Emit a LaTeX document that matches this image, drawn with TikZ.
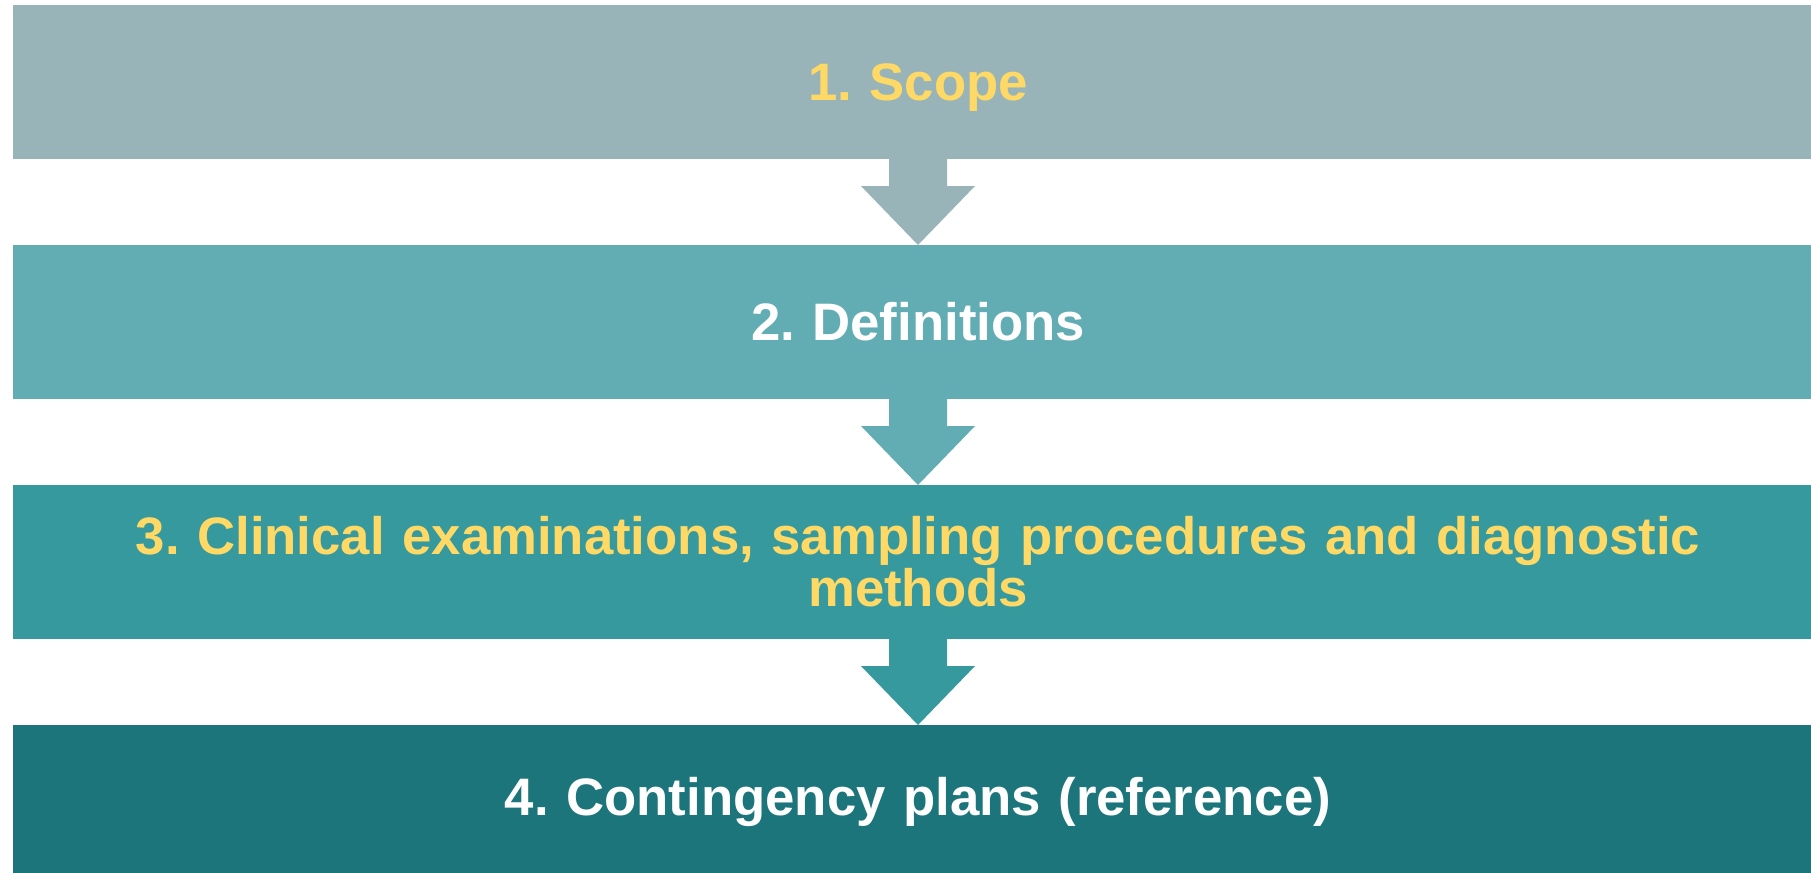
\documentclass[tikz,border=0pt]{standalone}
\usepackage{fontspec}
\setmainfont{Liberation Sans}
\usepackage{xcolor}
\usepackage{tikz}
\usetikzlibrary{positioning, calc}

\definecolor{scopegray}{HTML}{98B4B8}
\definecolor{defteal}{HTML}{62ADB3}
\definecolor{clinteal}{HTML}{36999E}
\definecolor{planteal}{HTML}{1B757A}
\definecolor{labelgold}{HTML}{FFD966}

\frenchspacing

\begin{document}
\begin{tikzpicture}[node distance=0.86cm]

	% Define styles
	\tikzset{
		stage/.style={
			rectangle, inner sep=0pt, outer sep=0pt,
			minimum width=18.10cm, minimum height=1.54cm,
			text width=17.6cm, align=center,
			font=\fontsize{15}{14.8}\selectfont\bfseries
		},
		scopebox/.style={stage, fill=scopegray, text=labelgold, text depth=0pt},
		defbox/.style={stage, fill=defteal, text=white},
		clinbox/.style={stage, fill=clinteal, text=labelgold},
		planbox/.style={stage, fill=planteal, text=white}
	}

	\useasboundingbox (0,0) rectangle (18.11,-8.72);

	% Stages (vertical flow)
	\node (scope) [scopebox] at (9.18,-0.82) {1. Scope};
	\node (defs)  [defbox,  below=of scope] {2. Definitions};
	\node (clin)  [clinbox, below=of defs]  {3. Clinical examinations, sampling procedures and diagnostic\\methods};
	\node (plans) [planbox, below=of clin]  {4. Contingency plans (reference)};

	% Block arrows between stages
	\foreach \a/\b/\c in {scope/defs/scopegray, defs/clin/defteal, clin/plans/clinteal}
		\fill[\c] ([xshift=-0.29cm]\a.south) -- ([xshift=-0.29cm, yshift=-0.27cm]\a.south)
			-- ([xshift=-0.57cm, yshift=-0.27cm]\a.south) -- (\b.north)
			-- ([xshift=0.57cm, yshift=-0.27cm]\a.south) -- ([xshift=0.29cm, yshift=-0.27cm]\a.south)
			-- ([xshift=0.29cm]\a.south) -- cycle;

\end{tikzpicture}
\end{document}
